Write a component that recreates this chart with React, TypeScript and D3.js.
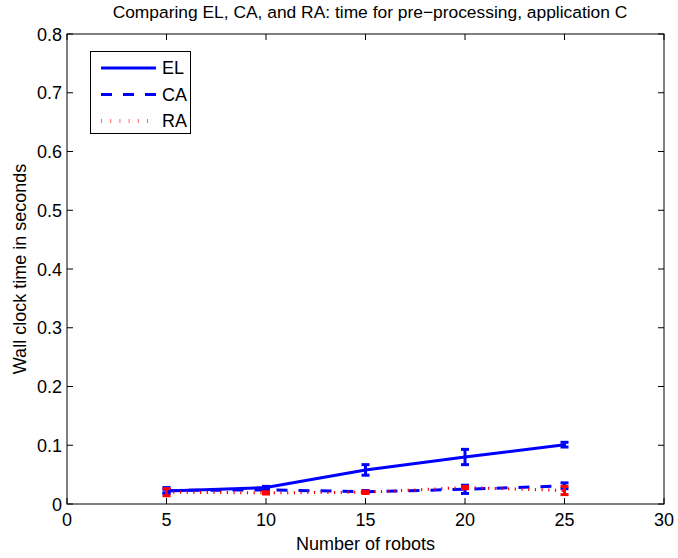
import React from 'react';
import * as d3 from 'd3';

// values
const robots = [5, 10, 15, 20, 25];
const elMean = [0.022, 0.028, 0.058, 0.08, 0.101];
const elErr = [0.003, 0.002, 0.009, 0.013, 0.004];
const caMean = [0.023, 0.024, 0.021, 0.025, 0.031];
const caErr = [0.005, 0.002, 0.002, 0.007, 0.005];
const raMean = [0.02, 0.019, 0.02, 0.028, 0.023];
const raErr = [0.006, 0.002, 0.002, 0.002, 0.007];

const xTicks = [0, 5, 10, 15, 20, 25, 30];
const yTicks = [0, 0.1, 0.2, 0.3, 0.4, 0.5, 0.6, 0.7, 0.8];

const series = [
  { name: 'EL', mean: elMean, err: elErr, color: '#0000ff', dash: null },
  { name: 'CA', mean: caMean, err: caErr, color: '#0000ff', dash: '11,11' },
  { name: 'RA', mean: raMean, err: raErr, color: '#ff0000', dash: '1.2,5.5' },
];

const W = 678;
const H = 558;
const margin = { top: 34, right: 14, bottom: 54, left: 67 };
const font = '"Liberation Sans", Arial, sans-serif';

const App = () => {
  const x = d3.scaleLinear().domain([0, 30]).range([margin.left, W - margin.right]);
  const y = d3.scaleLinear().domain([0, 0.8]).range([H - margin.bottom, margin.top]);

  const line = d3
    .line<number>()
    .x((_, i) => x(robots[i]))
    .y((d) => y(d));

  const x0 = x(0);
  const x1 = x(30);
  const y0 = y(0);
  const y1 = y(0.8);
  const tick = 6;

  return (
    <svg width={W} height={H} style={{ position: 'absolute', left: 0, top: 0, background: '#fff' }} fontFamily={font}>
      <rect x={0} y={0} width={W} height={H} fill="#fff" />
      <text x={370} y={18} textAnchor="middle" fontSize={17.4}>
        Comparing EL, CA, and RA: time for pre−processing, application C
      </text>

      {/* axes box and ticks */}
      <rect x={x0} y={y1} width={x1 - x0} height={y0 - y1} fill="none" stroke="#000" strokeWidth={1} />
      {xTicks.map((t) => (
        <g key={'x' + t}>
          <line x1={x(t)} x2={x(t)} y1={y0} y2={y0 - tick} stroke="#000" />
          <line x1={x(t)} x2={x(t)} y1={y1} y2={y1 + tick} stroke="#000" />
          <text x={x(t)} y={y0 + 22} textAnchor="middle" fontSize={18}>
            {t}
          </text>
        </g>
      ))}
      {yTicks.map((t) => (
        <g key={'y' + t}>
          <line x1={x0} x2={x0 + tick} y1={y(t)} y2={y(t)} stroke="#000" />
          <line x1={x1} x2={x1 - tick} y1={y(t)} y2={y(t)} stroke="#000" />
          <text x={x0 - 5} y={y(t) + 6.5} textAnchor="end" fontSize={18}>
            {t === 0 ? '0' : t.toFixed(1)}
          </text>
        </g>
      ))}
      <text x={(x0 + x1) / 2} y={550} textAnchor="middle" fontSize={18}>
        Number of robots
      </text>
      <text transform={`translate(26,${(y0 + y1) / 2}) rotate(-90)`} textAnchor="middle" fontSize={18}>
        Wall clock time in seconds
      </text>

      {/* data */}
      {series.map((s) => (
        <g key={s.name}>
          <path
            d={line(s.mean) || ''}
            fill="none"
            stroke={s.color}
            strokeWidth={3}
            strokeDasharray={s.dash || undefined}
          />
          {s.mean.map((m, i) => {
            const cx = x(robots[i]);
            const top = y(m + s.err[i]);
            const bot = y(m - s.err[i]);
            return (
              <g key={i} stroke={s.color} strokeWidth={3}>
                <line x1={cx} x2={cx} y1={top} y2={bot} />
                <line x1={cx - 4} x2={cx + 4} y1={top} y2={top} />
                <line x1={cx - 4} x2={cx + 4} y1={bot} y2={bot} />
              </g>
            );
          })}
        </g>
      ))}

      {/* legend */}
      <rect x={90.5} y={51.5} width={100} height={82} fill="#fff" stroke="#000" />
      {series.map((s, i) => {
        const ly = 68 + i * 26.5;
        const isRA = s.name === 'RA';
        return (
          <g key={'l' + s.name}>
            <line
              x1={101}
              x2={156}
              y1={ly}
              y2={ly}
              stroke={s.color}
              strokeWidth={isRA ? 4 : 3}
              strokeOpacity={isRA ? 0.6 : 1}
              strokeDasharray={isRA ? '1,8.2' : s.dash || undefined}
            />
            <text x={162} y={ly + 6} fontSize={18}>
              {s.name}
            </text>
          </g>
        );
      })}
    </svg>
  );
};

export default App;
